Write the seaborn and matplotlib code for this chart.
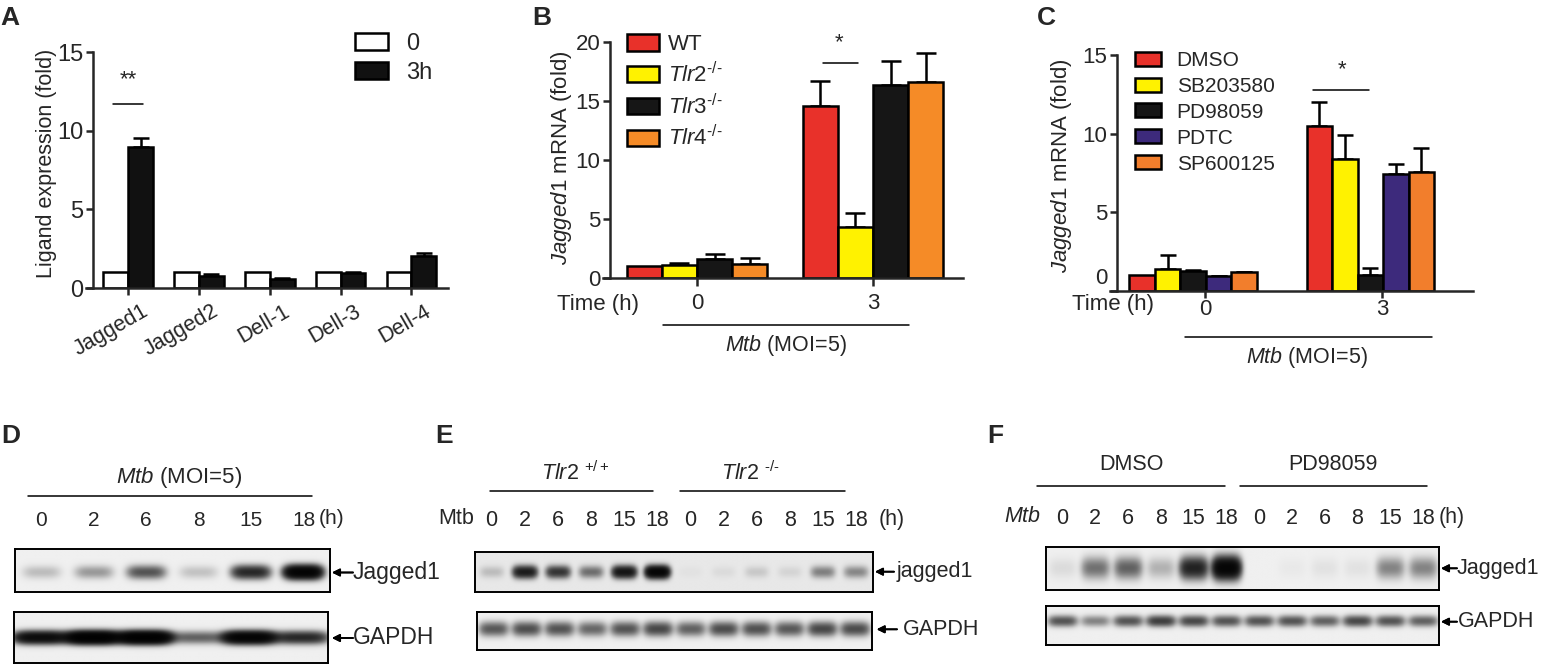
import numpy as np
import pandas as pd
import seaborn as sns
import matplotlib.pyplot as plt
from matplotlib.lines import Line2D
from matplotlib.transforms import ScaledTranslation

sns.set_style('ticks')
plt.rcParams['font.family'] = ['Liberation Sans', 'DejaVu Sans']
plt.rcParams['mathtext.fontset'] = 'custom'
plt.rcParams['mathtext.rm'] = 'Liberation Sans'
plt.rcParams['mathtext.it'] = 'Liberation Sans:italic'
plt.rcParams['mathtext.bf'] = 'Liberation Sans:bold'
plt.rcParams['axes.linewidth'] = 1.8

W, H = 1548, 664

# ---------------- data ----------------
# A: notch ligand expression, 0 vs 3h
ligands = ['Jagged1', 'Jagged2', 'Dell-1', 'Dell-3', 'Dell-4']
a_times = ['0', '3h']
a_0h = [1.0, 1.0, 1.0, 1.0, 1.0]
a_3h = [9.0, 0.78, 0.6, 0.96, 2.05]
a_0h_err = [0.0, 0.0, 0.0, 0.0, 0.0]
a_3h_err = [0.55, 0.08, 0.04, 0.06, 0.15]

# B: Jagged1 mRNA in TLR knockouts
times = ['0', '3']
b_strains = ['WT', 'Tlr2', 'Tlr3', 'Tlr4']
b_labels = ['WT', r'$\it{Tlr2}^{\it{\text{-/-}}}$', r'$\it{Tlr3}^{\it{\text{-/-}}}$',
            r'$\it{Tlr4}^{\it{\text{-/-}}}$']
b_wt = [1.0, 14.6]
b_tlr2 = [1.05, 4.3]
b_tlr3 = [1.55, 16.4]
b_tlr4 = [1.2, 16.6]
b_wt_err = [0.0, 2.1]
b_tlr2_err = [0.2, 1.2]
b_tlr3_err = [0.5, 2.0]
b_tlr4_err = [0.5, 2.5]
b_colors = ['#e8312a', '#fff200', '#161616', '#f58b27']

# C: Jagged1 mRNA with inhibitors
c_drugs = ['DMSO', 'SB203580', 'PD98059', 'PDTC', 'SP600125']
c_dmso = [1.0, 10.5]
c_sb = [1.4, 8.4]
c_pd = [1.28, 0.98]
c_pdtc = [0.92, 7.45]
c_sp = [1.17, 7.55]
c_dmso_err = [0.0, 1.5]
c_sb_err = [0.85, 1.5]
c_pd_err = [0.05, 0.45]
c_pdtc_err = [0.04, 0.6]
c_sp_err = [0.04, 1.5]
c_colors = ['#e8312a', '#fff200', '#161616', '#3d2a7c', '#f27e2c']

# D-F: western blot band intensities per lane
lanes = ['0', '2', '6', '8', '15', '18']
d_jag = [0.08, 0.15, 0.35, 0.07, 0.6, 1.3]
d_gapdh = [1.0, 1.6, 1.6, 0.3, 1.3, 0.6]
e_jag = [0.07, 0.7, 0.5, 0.25, 0.8, 1.2, 0.01, 0.02, 0.05, 0.03, 0.2, 0.18]
e_gapdh = [0.33, 0.37, 0.35, 0.28, 0.35, 0.4, 0.3, 0.38, 0.36, 0.33, 0.4, 0.38]
f_jag = [0.03, 0.25, 0.3, 0.1, 0.65, 1.2, 0.0, 0.01, 0.02, 0.02, 0.2, 0.2]
f_gapdh = [0.35, 0.2, 0.35, 0.45, 0.4, 0.35, 0.35, 0.35, 0.3, 0.4, 0.35, 0.3]

fig = plt.figure(figsize=(W / 100, H / 100), dpi=100)


def rect(l, t, r, b):
    return [l / W, 1 - b / H, (r - l) / W, (b - t) / H]


def ftext(x, y, s, **kw):
    kw.setdefault('ha', 'center')
    kw.setdefault('va', 'center')
    fig.text(x / W, 1 - y / H, s, **kw)


def fline(x0, x1, y, lw=1.1):
    fig.add_artist(Line2D([x0 / W, x1 / W], [1 - y / H, 1 - y / H], color='black', lw=lw))


def farrow(x_head, x_tail, y):
    fig.add_artist(plt.annotate('', xy=(x_head, H - y), xytext=(x_tail, H - y),
                                xycoords='figure pixels', textcoords='figure pixels',
                                arrowprops=dict(arrowstyle='-|>', lw=1.3, color='black',
                                                mutation_scale=11, shrinkA=0, shrinkB=0)))


def bar_panel(ax, df, hue_order, colors, errs, width, cap):
    sns.barplot(data=df, x='x', y='val', hue='hue', hue_order=hue_order, palette=colors,
                saturation=1, width=width, edgecolor='black', linewidth=1.8, errorbar=None,
                legend=False, ax=ax, zorder=2)
    for cont, err in zip(ax.containers, errs):
        for bar, e in zip(cont, err):
            if e > 0:
                ax.errorbar(bar.get_x() + bar.get_width() / 2, bar.get_height(),
                            yerr=[[0], [e]], fmt='none', ecolor='black', elinewidth=1.8,
                            capsize=cap, capthick=1.8, zorder=1)
    sns.despine(ax=ax)
    ax.spines['left'].set_position(('outward', -5))
    ax.tick_params(width=1.8, length=5, pad=2)
    ax.set_xlabel('')


def blot(ax, intens, yc, sy, sx, gain=3.0, bg=0.06):
    n = len(intens)
    xs = np.linspace(0, n, n * 40)
    ys = np.linspace(0, 1, 90)
    X, Y = np.meshgrid(xs, ys)
    dens = np.zeros_like(X)
    for i, v in enumerate(intens):
        dens += v * np.exp(-0.5 * (np.abs(X - i - 0.5) / sx) ** 4) * np.exp(-0.5 * ((Y - yc) / sy) ** 2)
    img = bg + (1 - bg) * (1 - np.exp(-gain * dens))
    ax.imshow(img, cmap='gray_r', vmin=0, vmax=1, extent=(0, n, 1, 0), aspect='auto',
              interpolation='bilinear')
    ax.set_xlim(0, n)
    ax.set_ylim(1, 0)
    ax.set_yticks([])
    ax.set_xticks([])
    for s in ax.spines.values():
        s.set_visible(True)
        s.set_linewidth(1.4)
        s.set_color('black')


def lane_ticks(ax, labels, pad, fs):
    ax.set_xticks(np.arange(len(labels)) + 0.5)
    ax.set_xticklabels(labels, fontsize=fs)
    ax.tick_params(top=True, labeltop=True, bottom=False, labelbottom=False, length=0, pad=pad)


# ---------------- panel A ----------------
axA = fig.add_axes(rect(86, 52.3, 448.3, 288))
dfA = pd.DataFrame({'x': ligands * 2, 'hue': np.repeat(a_times, len(ligands)), 'val': a_0h + a_3h})
bar_panel(axA, dfA, a_times, ['white', '#111111'], [a_0h_err, a_3h_err], 0.7, 5.5)
axA.set_xlim(-0.595, 4.52)
axA.set_ylim(0, 15)
axA.set_yticks([0, 5, 10, 15])
axA.tick_params(axis='y', labelsize=17)
axA.set_xticklabels(ligands, rotation=30, ha='right', rotation_mode='anchor', fontsize=15.5)
for lbl in axA.get_xticklabels():
    lbl.set_transform(lbl.get_transform() + ScaledTranslation(0.13, -0.03, fig.dpi_scale_trans))
axA.set_ylabel('Ligand expression (fold)', fontsize=15.5)
axA.yaxis.set_label_coords(-0.08, 0.53)
axA.legend(axA.containers, ['0', '3h'], loc='upper left', bbox_to_anchor=(355 / W, 1 - 33 / H),
           bbox_transform=fig.transFigure, frameon=False, borderpad=0, borderaxespad=0,
           handlelength=1.4, handleheight=0.72, handletextpad=0.77, labelspacing=0.3, fontsize=17)
ftext(128, 80, '**', fontsize=16)
fline(113, 143, 104)

# ---------------- panel B ----------------
axB = fig.add_axes(rect(603, 42.3, 962.7, 277.7))
dfB = pd.DataFrame({'x': times * 4, 'hue': np.repeat(b_strains, 2),
                    'val': b_wt + b_tlr2 + b_tlr3 + b_tlr4})
bar_panel(axB, dfB, b_strains, b_colors, [b_wt_err, b_tlr2_err, b_tlr3_err, b_tlr4_err], 0.8, 7)
axB.set_xlim(-0.534, 1.51)
axB.set_ylim(0, 20)
axB.set_yticks([0, 5, 10, 15, 20])
axB.tick_params(axis='both', labelsize=16)
axB.tick_params(axis='x', length=6, pad=5)
axB.set_ylabel(r'$\it{Jagged1}$ mRNA (fold)', fontsize=16)
axB.yaxis.set_label_coords(-0.08, 0.51)
axB.legend(axB.containers, b_labels, loc='upper left', bbox_to_anchor=(626.7 / W, 1 - 34 / H),
           bbox_transform=fig.transFigure, frameon=False, borderpad=0, borderaxespad=0,
           handlelength=1.44, handleheight=0.77, handletextpad=0.4, labelspacing=0.3, fontsize=16)
ftext(839, 43, '*', fontsize=16)
fline(822.7, 858, 63)
ftext(557, 305, 'Time (h)', ha='left', fontsize=16)
fline(663, 909, 325)
ftext(786, 346, r'$\it{Mtb}$ (MOI=5)', fontsize=15.5)

# ---------------- panel C ----------------
axC = fig.add_axes(rect(1110, 55, 1473, 290.7))
dfC = pd.DataFrame({'x': times * 5, 'hue': np.repeat(c_drugs, 2),
                    'val': c_dmso + c_sb + c_pd + c_pdtc + c_sp})
bar_panel(axC, dfC, c_drugs, c_colors, [c_dmso_err, c_sb_err, c_pd_err, c_pdtc_err, c_sp_err], 0.72, 6)
axC.set_xlim(-0.47, 1.58)
axC.set_ylim(0, 15)
axC.set_yticks([0, 5, 10, 15])
axC.set_xticks([0.068, 1.068])
axC.set_xticklabels(times)
axC.tick_params(axis='both', labelsize=16)
axC.tick_params(axis='x', length=5, pad=1)
zero = axC.get_yticklabels()[0]
zero.set_transform(zero.get_transform() + ScaledTranslation(0, 0.15, fig.dpi_scale_trans))
axC.set_ylabel(r'$\it{Jagged1}$ mRNA (fold)', fontsize=16)
axC.yaxis.set_label_coords(-0.10, 0.53)
axC.legend(axC.containers, c_drugs, loc='upper left', bbox_to_anchor=(1135 / W, 1 - 51 / H),
           bbox_transform=fig.transFigure, frameon=False, borderpad=0, borderaxespad=0,
           handlelength=1.25, handleheight=0.65, handletextpad=0.75, labelspacing=0.33, fontsize=15)
ftext(1341.7, 70, '*', fontsize=16)
fline(1313.3, 1369.3, 90)
ftext(1071.7, 305, 'Time (h)', ha='left', fontsize=16)
fline(1185, 1431.7, 336.7)
ftext(1307, 357, r'$\it{Mtb}$ (MOI=5)', fontsize=15.5)

# ---------------- panel D ----------------
axDj = fig.add_axes(rect(15, 548.5, 330, 591.7))
blot(axDj, d_jag, 0.55, 0.1, 0.3)
lane_ticks(axDj, lanes, 13, 15)
axDg = fig.add_axes(rect(14, 611.5, 328, 662.5))
blot(axDg, d_gapdh, 0.52, 0.08, 0.42)
ftext(179, 478, r'$\it{Mtb}$ (MOI=5)', fontsize=16)
fline(28, 312, 496)
ftext(331.7, 519, '(h)', fontsize=15)
farrow(332, 353, 572.5)
ftext(353, 572.5, 'Jagged1', ha='left', fontsize=16.5)
farrow(332, 353, 638)
ftext(353, 638, 'GAPDH', ha='left', fontsize=16.5)

# ---------------- panel E ----------------
axEj = fig.add_axes(rect(475, 551.7, 872.7, 591.7))
blot(axEj, e_jag, 0.5, 0.1, 0.3, bg=0.09)
lane_ticks(axEj, lanes * 2, 15, 15.5)
axEg = fig.add_axes(rect(477, 611.7, 872, 650))
blot(axEg, e_gapdh, 0.46, 0.12, 0.36)
ftext(456, 519, 'Mtb', fontsize=15.5)
ftext(892, 519, '(h)', fontsize=15.5)
ftext(575, 473, r'$\it{Tlr2}$ $^{+/+}$', fontsize=15.5)
fline(490, 653, 491)
ftext(750, 473, r'$\it{Tlr2}$ $^{\it{\text{-/-}}}$', fontsize=15.5)
fline(680, 845, 491)
farrow(875, 894, 571.7)
ftext(896.7, 571.7, 'jagged1', ha='left', fontsize=15.5)
farrow(876.7, 897, 629.3)
ftext(903, 629.3, 'GAPDH', ha='left', fontsize=15.5)

# ---------------- panel F ----------------
axFj = fig.add_axes(rect(1046, 546.7, 1439.3, 590))
blot(axFj, f_jag, 0.5, 0.16, 0.35)
lane_ticks(axFj, lanes * 2, 13, 15.5)
axFg = fig.add_axes(rect(1046, 606, 1439.3, 645))
blot(axFg, f_gapdh, 0.4, 0.09, 0.36)
ftext(1023, 517, r'$\it{Mtb}$', fontsize=15.5)
ftext(1451.7, 517, '(h)', fontsize=15.5)
ftext(1131.7, 465, 'DMSO', fontsize=15.5)
fline(1036.7, 1225, 486)
ftext(1333, 465, 'PD98059', fontsize=15.5)
fline(1240, 1427.3, 486)
farrow(1441, 1457, 568.3)
ftext(1457, 568.3, 'Jagged1', ha='left', fontsize=15.5)
farrow(1441, 1457, 621.7)
ftext(1458, 621.7, 'GAPDH', ha='left', fontsize=15.5)

# panel letters
for letter, x, y in [('A', 10, 18), ('B', 542, 18), ('C', 1046, 18),
                     ('D', 11, 436), ('E', 444, 436), ('F', 995, 436)]:
    ftext(x, y, letter, fontsize=19, fontweight='bold')

fig.savefig('out.png', dpi=100)
